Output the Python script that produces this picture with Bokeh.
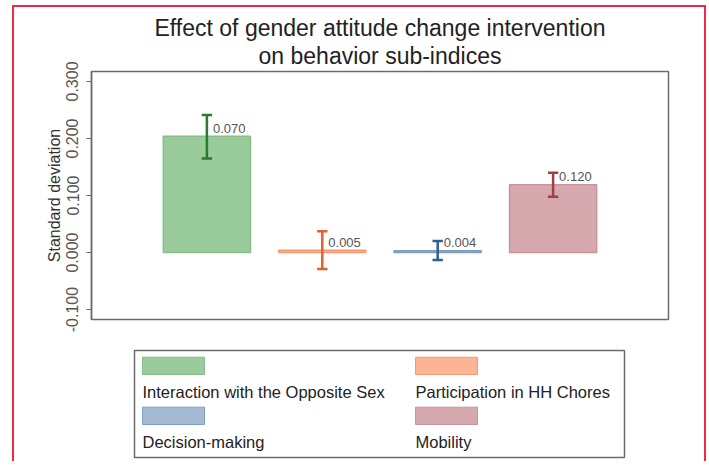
from bokeh.plotting import figure
from bokeh.models import Range1d, PrintfTickFormatter, FixedTicker, ColumnDataSource, Title
from bokeh.layouts import column
from bokeh.core.properties import value
from bokeh.embed import file_html
from bokeh.resources import INLINE

# ---- data ----
categories = ["Interaction with the Opposite Sex", "Participation in HH Chores",
              "Decision-making", "Mobility"]
effects = [0.204, 0.004, 0.003, 0.119]
ci_low = [0.165, -0.029, -0.013, 0.098]
ci_high = [0.241, 0.0375, 0.020, 0.140]
bar_labels = ["0.070", "0.005", "0.004", "0.120"]
y_ticks = [-0.1, 0.0, 0.1, 0.2, 0.3]
title_lines = ["Effect of gender attitude change intervention", "on behavior sub-indices"]

# ---- styles ----
FONT = "Liberation Sans"
fill_colors = ["#9acb9b", "#fbb496", "#a5bbd3", "#d6a9af"]
line_colors = ["#86bd88", "#f39a70", "#7f9dbf", "#c8939b"]
err_colors = ["#2b7a2e", "#e5602e", "#31608f", "#9e3f4a"]
FRAME = "#6b6b6b"
RED = "#ec2b4b"

W = 690
BL, BR = 77, 36          # left/right borders, shared by both panels
FW = W - BL - BR
xs = list(range(1, len(categories) + 1))
cap = 0.045

src = ColumnDataSource(dict(
    x=xs, top=effects, low=ci_low, high=ci_high, lab=bar_labels,
    fill=fill_colors, line=line_colors, err=err_colors,
    cl=[x - cap for x in xs], cr=[x + cap for x in xs],
))

p = figure(width=W, height=329, output_backend="svg", toolbar_location=None,
           x_range=Range1d(0, 5), y_range=Range1d(-0.1175, 0.3175),
           x_axis_location=None,
           min_border_left=BL, min_border_right=BR,
           min_border_top=64, min_border_bottom=17)

title_standoffs = [-5, 5]
for line, so in reversed(list(zip(title_lines, title_standoffs))):
    p.add_layout(Title(text=line, align="center", text_font=FONT,
                       text_font_size="23px", text_font_style="normal",
                       text_color="#222222", standoff=so), "above")

p.xgrid.visible = False
p.ygrid.visible = False
p.outline_line_color = FRAME
p.outline_line_width = 1.5

ax = p.yaxis[0]
ax.ticker = FixedTicker(ticks=y_ticks)
ax.formatter = PrintfTickFormatter(format="%.3f")
ax.major_label_orientation = "vertical"
ax.major_tick_in = 0
ax.major_tick_out = 5
ax.minor_tick_line_color = None
ax.axis_line_color = FRAME
ax.axis_line_width = 1.5
ax.major_tick_line_color = FRAME
ax.major_tick_line_width = 1.2
ax.major_label_text_font = FONT
ax.major_label_text_font_size = "16px"
ax.major_label_text_color = "#555555"
ax.major_label_standoff = 8
ax.axis_label = "Standard deviation"
ax.axis_label_text_font = FONT
ax.axis_label_text_font_size = "16px"
ax.axis_label_text_font_style = "normal"
ax.axis_label_text_color = "#333333"
ax.axis_label_standoff = 1

p.vbar(x="x", top="top", bottom=0, width=0.755, source=src,
       fill_color="fill", line_color="line", line_width=1.5)
p.segment(x0="x", y0="low", x1="x", y1="high", source=src, line_color="err", line_width=2.5)
p.segment(x0="cl", y0="low", x1="cr", y1="low", source=src, line_color="err", line_width=2.5)
p.segment(x0="cl", y0="high", x1="cr", y1="high", source=src, line_color="err", line_width=2.5)
p.text(x="x", y="top", text="lab", source=src, x_offset=6, y_offset=-8,
       text_align="left", text_baseline="middle", text_font=value(FONT),
       text_font_size="13px", text_color="#555555")

# ---- legend panel (Stata style: swatch above label) ----
LH = 125
leg = figure(width=W, height=LH, output_backend="svg", toolbar_location=None,
             x_range=Range1d(0, FW), y_range=Range1d(LH, 0),
             x_axis_location=None, y_axis_location=None,
             min_border_left=BL, min_border_right=BR,
             min_border_top=0, min_border_bottom=0)
leg.xgrid.visible = False
leg.ygrid.visible = False
leg.outline_line_color = None

box_l, box_r, box_t, box_b = 43, 533, 14, 121
leg.quad(left=[box_l], right=[box_r], top=[box_t], bottom=[box_b],
         fill_color="white", line_color=FRAME, line_width=1.5)

col_x = [box_l + 8, box_l + 281]
row_y = [box_t + 6.7, box_t + 56.7]
sw_w, sw_h = 62, 17.3
lx, ly = [], []
for i, name in enumerate(categories):
    lx.append(col_x[i % 2])
    ly.append(row_y[i // 2])
lsrc = ColumnDataSource(dict(
    left=lx, right=[v + sw_w for v in lx], top=ly, bottom=[v + sw_h for v in ly],
    tx=lx, ty=[v + 35 for v in ly], txt=categories, fill=fill_colors, line=line_colors))
leg.quad(left="left", right="right", top="top", bottom="bottom", source=lsrc,
         fill_color="fill", line_color="line", line_width=1)
leg.text(x="tx", y="ty", text="txt", source=lsrc, text_align="left",
         text_baseline="middle", text_font=value(FONT), text_font_size="16.5px",
         text_color="#222222")

layout = column(p, leg, styles={"margin": "5px 0 0 12px",
                                "border-top": "2px solid " + RED,
                                "border-left": "2px solid " + RED,
                                "border-right": "2px solid " + RED})

open("out.html", "w").write(file_html(layout, INLINE))
